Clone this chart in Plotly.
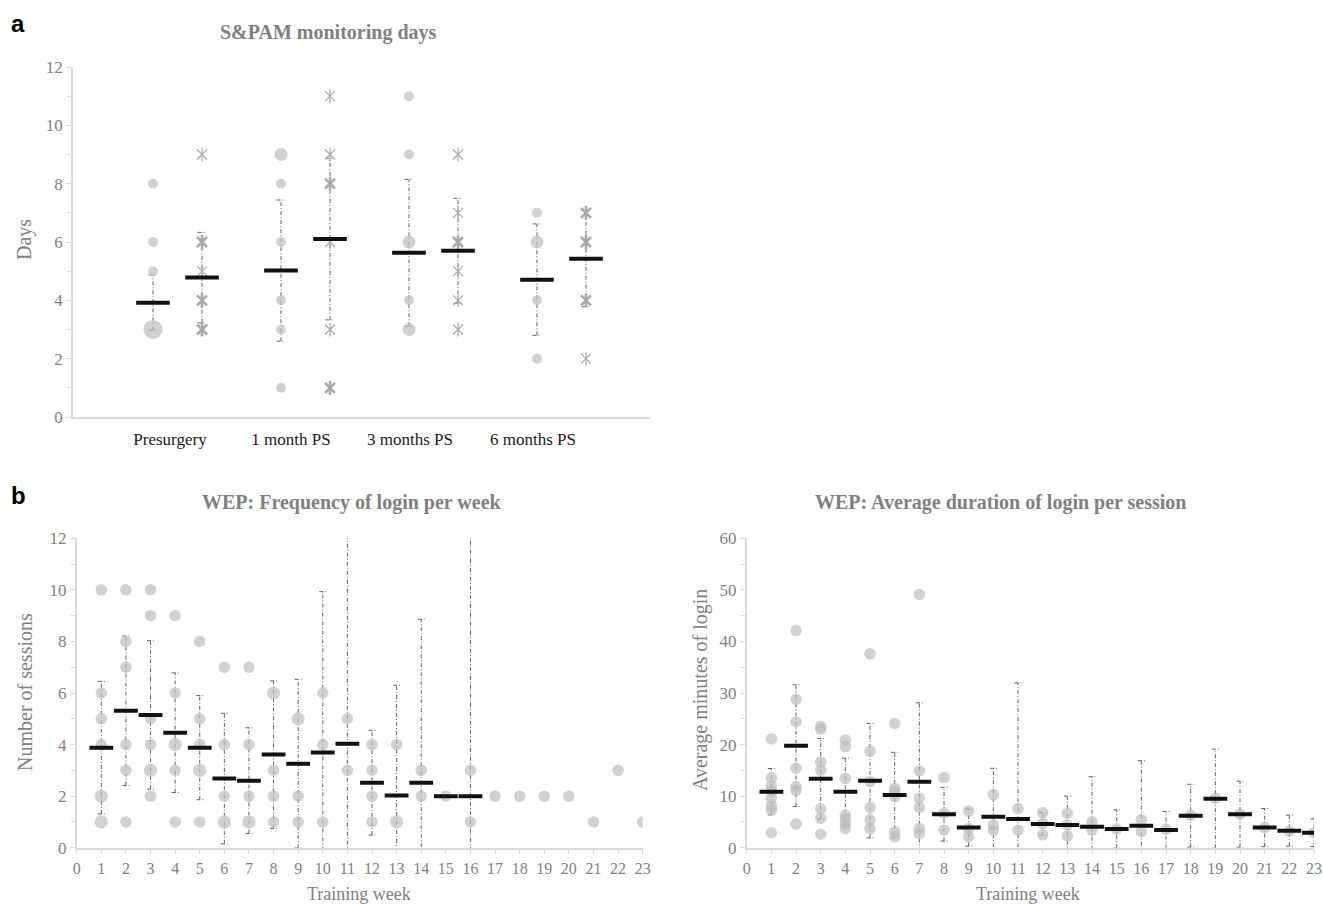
import plotly.graph_objects as go
from collections import Counter

W, H = 1323, 904

# ---------------- Panel a data ----------------
periods = ["Presurgery", "1 month PS", "3 months PS", "6 months PS"]
# group 1 (dots) raw values, repeated values = several patients
days_dots = [
    [8, 6, 5, 3, 3, 3, 3],
    [9, 9, 8, 6, 4, 3, 1],
    [11, 9, 6, 6, 4, 3, 3],
    [7, 6, 6, 4, 2],
]
days_dots_mean = [3.92, 5.02, 5.63, 4.71]
days_dots_sd = [0.95, 2.42, 2.52, 1.91]
# group 2 (asterisks)
days_star = [
    [9, 6, 6, 5, 4, 4, 3, 3],
    [11, 9, 8, 8, 6, 3, 1, 1],
    [9, 7, 6, 6, 5, 4, 3],
    [7, 7, 6, 6, 4, 4, 2],
]
days_star_mean = [4.78, 6.10, 5.70, 5.43]
days_star_sd = [1.55, 2.77, 1.80, 1.65]

# ---------------- Panel b data ----------------
weeks = list(range(1, 24))
freq_values = [
    [10, 6, 5, 4, 2, 2, 1, 1],
    [10, 8, 7, 4, 3, 1],
    [10, 9, 5, 4, 3, 3, 2],
    [9, 6, 4, 4, 3, 1],
    [8, 5, 4, 3, 3, 1],
    [7, 4, 2, 1, 1],
    [7, 4, 2, 1, 1],
    [6, 6, 3, 2, 1],
    [5, 5, 2, 1],
    [6, 4, 1],
    [5, 3],
    [4, 3, 2, 1],
    [4, 1, 1],
    [3, 2],
    [2],
    [3, 1],
    [2], [2], [2], [2], [1], [3], [1],
]
freq_mean = [3.88, 5.31, 5.15, 4.46, 3.88, 2.68, 2.60, 3.61, 3.26, 3.69, 4.03, 2.52,
             2.02, 2.52, 2.0, 2.0, None, None, None, None, None, None, None]
freq_sd = [2.57, 2.90, 2.88, 2.32, 2.02, 2.53, 2.05, 2.86, 3.27, 6.24, 9.5, 2.03,
           4.28, 6.34, None, 10.5, None, None, None, None, None, None, None]

dur_values = [
    [21.1, 13.6, 12.0, 11.0, 9.6, 8.1, 7.3, 2.9],
    [42.1, 28.8, 24.4, 15.4, 11.8, 11.1, 4.6],
    [23.5, 23.0, 16.6, 15.0, 7.5, 5.7, 2.6],
    [20.9, 19.6, 13.4, 6.3, 5.6, 4.6, 3.7],
    [37.6, 18.7, 12.8, 7.8, 5.4, 3.7],
    [24.1, 11.5, 10.9, 9.9, 3.1, 2.1],
    [49.1, 14.9, 9.6, 7.8, 3.7, 2.7],
    [13.6, 6.7, 3.4],
    [7.1, 3.7, 2.1],
    [10.3, 4.4, 3.4],
    [7.6, 3.4],
    [6.8, 4.7, 2.5],
    [6.7, 4.4, 2.3],
    [5.0, 3.4],
    [3.6],
    [5.4, 3.1],
    [3.6], [6.3], [9.6], [6.5], [3.9], [3.2], [2.9],
]
dur_mean = [10.86, 19.78, 13.38, 10.86, 13.0, 10.2, 12.8, 6.5, 3.9, 6.0, 5.56, 4.6,
            4.4, 4.07, 3.62, 4.27, 3.43, 6.2, 9.5, 6.5, 3.9, 3.3, 2.9]
dur_sd = [4.5, 11.8, 7.8, 6.5, 11.1, 8.3, 15.3, 5.2, 3.6, 9.4, 26.4, 2.2,
          5.6, 9.7, 3.7, 12.6, 3.6, 6.1, 9.6, 6.4, 3.7, 3.0, 2.7]

# ---------------- styling ----------------
SERIF = "Liberation Serif, Times New Roman, serif"
DOT = "#BDBDBD"
STAR = "#A9A9A9"
ERR = "#606060"
AXC = "#D9D9D9"
TXT = "#808080"
DASH = "4px,2px,1px,2px"

fig = go.Figure()


def add_err(xs, means, sds, xa, ya, cap):
    vx, vy, cx, cy = [], [], [], []
    for x, m, s in zip(xs, means, sds):
        if m is None or s is None:
            continue
        vx += [x, x, None]
        vy += [m - s, m + s, None]
        for yy in (m - s, m + s):
            cx += [x - cap, x + cap, None]
            cy += [yy, yy, None]
    for X, Y in ((vx, vy), (cx, cy)):
        fig.add_trace(go.Scatter(x=X, y=Y, mode="lines", xaxis=xa, yaxis=ya,
                                 line=dict(color=ERR, width=1, dash=DASH),
                                 hoverinfo="skip", showlegend=False))


def flatten(xs, groups):
    px, py, cnt = [], [], []
    for x, vals in zip(xs, groups):
        c = Counter(vals)
        for v, n in c.items():
            px.append(x)
            py.append(v)
            cnt.append(n)
    return px, py, cnt


def add_dots(xs, groups, xa, ya, base, growth):
    px, py, cnt = flatten(xs, groups)
    sizes = [base * (1 + growth * (n - 1)) for n in cnt]
    fig.add_trace(go.Scatter(x=px, y=py, mode="markers", xaxis=xa, yaxis=ya,
                             marker=dict(color=DOT, size=sizes, line=dict(width=0)),
                             showlegend=False))


def add_mean(xs, means, xa, ya, size):
    mx = [x for x, m in zip(xs, means) if m is not None]
    my = [m for m in means if m is not None]
    fig.add_trace(go.Scatter(x=mx, y=my, mode="markers", xaxis=xa, yaxis=ya,
                             marker=dict(symbol="line-ew", size=size,
                                         line=dict(color="#111111", width=4)),
                             showlegend=False))


# ---- panel a ----
xa_dots = [1, 2, 3, 4]
offset = 0.383
xa_star = [x + offset for x in xa_dots]

add_err(xa_dots, days_dots_mean, days_dots_sd, "x", "y", 0.035)
add_err(xa_star, days_star_mean, days_star_sd, "x", "y", 0.035)
add_dots(xa_dots, days_dots, "x", "y", 10, 0.3)

sx, sy, sc = flatten(xa_star, days_star)
widths = [1.2 if n == 1 else 2.6 for n in sc]
for sym in ("x-thin-open", "line-ns-open"):
    fig.add_trace(go.Scatter(x=sx, y=sy, mode="markers", xaxis="x", yaxis="y",
                             marker=dict(symbol=sym, size=10, color=STAR,
                                         line=dict(color=STAR, width=widths)),
                             showlegend=False))
add_mean(xa_dots, days_dots_mean, "x", "y", 24)
add_mean(xa_star, days_star_mean, "x", "y", 24)

# ---- panel b left ----
add_err(weeks, freq_mean, freq_sd, "x2", "y2", 0.14)
add_dots(weeks, freq_values, "x2", "y2", 11.5, 0.15)
add_mean(weeks, freq_mean, "x2", "y2", 17)

# ---- panel b right ----
add_err(weeks, dur_mean, dur_sd, "x3", "y3", 0.14)
add_dots(weeks, dur_values, "x3", "y3", 11.5, 0.15)
add_mean(weeks, dur_mean, "x3", "y3", 17)


def dx(p0, p1):
    return [p0 / W, p1 / W]


def dy(ptop, pbot):
    return [1 - pbot / H, 1 - ptop / H]


common_y = dict(showgrid=False, zeroline=False, showline=True, linecolor=AXC, linewidth=1.5,
                ticks="outside", ticklen=5, tickcolor=AXC, tickwidth=1.2, automargin=False,
                tickfont=dict(family=SERIF, size=17, color=TXT))
common_x = dict(showgrid=False, zeroline=False, showline=True, linecolor=AXC, linewidth=1.5,
                automargin=False)

label_pos = [1.133, 2.078, 3.008, 3.969]

fig.update_layout(
    template="none",
    width=W, height=H, margin=dict(l=0, r=0, t=0, b=0, pad=0),
    paper_bgcolor="white", plot_bgcolor="white", showlegend=False,
    xaxis=dict(domain=dx(73, 650), range=[0.375, 4.883], anchor="y",
               ticks="", tickvals=label_pos, ticktext=periods, ticklabelstandoff=6,
               tickfont=dict(family=SERIF, size=17, color="#1a1a1a"), **common_x),
    yaxis=dict(domain=dy(67, 417), range=[0, 12], dtick=2, anchor="x",
               minor=dict(dtick=1, ticks="outside", ticklen=4, tickcolor=AXC), **common_y),
    xaxis2=dict(domain=dx(76.7, 642.7), range=[0, 23], dtick=1, anchor="y2",
                ticks="outside", ticklen=5, tickcolor=AXC, tickwidth=1.2,
                tickfont=dict(family=SERIF, size=16, color=TXT), **common_x),
    yaxis2=dict(domain=dy(538.3, 847.7), range=[0, 12], dtick=2, anchor="x2",
                minor=dict(dtick=1, ticks="outside", ticklen=4, tickcolor=AXC), **common_y),
    xaxis3=dict(domain=dx(746.7, 1314), range=[0, 23], dtick=1, anchor="y3",
                ticks="outside", ticklen=5, tickcolor=AXC, tickwidth=1.2,
                tickfont=dict(family=SERIF, size=16, color=TXT), **common_x),
    yaxis3=dict(domain=dy(538.3, 847.7), range=[0, 60], dtick=10, anchor="x3",
                minor=dict(dtick=5, ticks="outside", ticklen=4, tickcolor=AXC), **common_y),
)


def ann(text, x, y, size, color=TXT, bold=False, angle=0, family=SERIF):
    fig.add_annotation(text=("<b>%s</b>" % text) if bold else text,
                       x=x / W, y=1 - y / H, xref="paper", yref="paper",
                       showarrow=False, textangle=angle, xanchor="center", yanchor="middle",
                       font=dict(family=family, size=size, color=color))


ann("a", 18, 23, 24, color="#000000", bold=True, family="Liberation Sans, Arial, sans-serif")
ann("b", 18, 495, 24, color="#000000", bold=True, family="Liberation Sans, Arial, sans-serif")
ann("S&amp;PAM monitoring days", 328, 32, 20, bold=True)
ann("WEP: Frequency of login per week", 352, 503, 20, bold=True)
ann("WEP: Average duration of login per session", 1000, 503, 20, bold=True)
ann("Days", 25, 240, 20, angle=-90)
ann("Number of sessions", 25, 692, 20, angle=-90)
ann("Average minutes of login", 700, 690, 20, angle=-90)
ann("Training week", 359, 894, 18)
ann("Training week", 1028, 894, 18)

fig.write_html("out.html", config={"displayModeBar": False},
               post_script="document.body.style.margin='0';")
